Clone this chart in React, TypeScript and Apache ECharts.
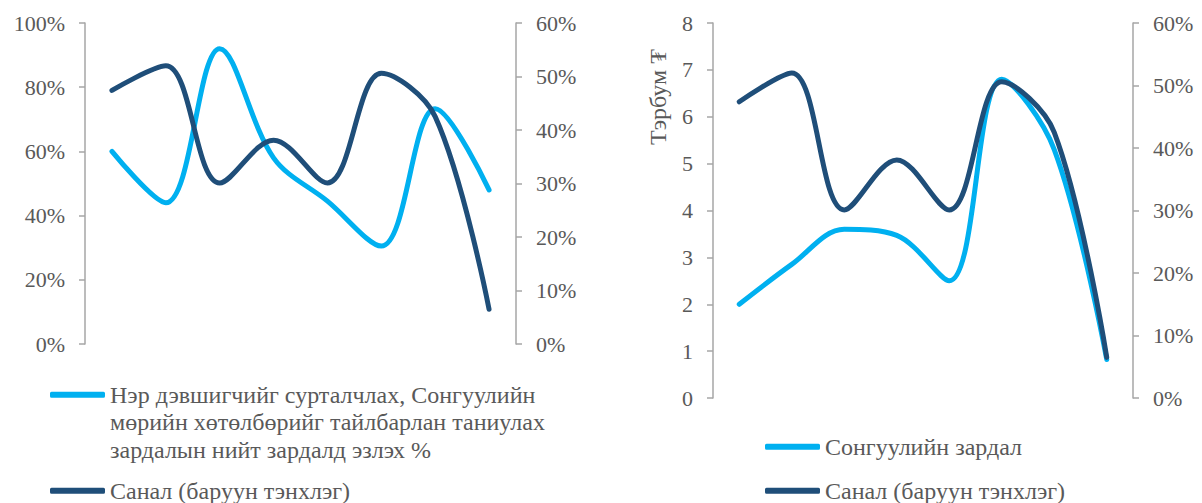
import React, { useEffect, useRef } from "react";
import * as echarts from "echarts";

const categories = ["1", "2", "3", "4", "5", "6", "7", "8"];
const promoShare = [60, 44, 92, 58, 44.5, 30.5, 73.3, 48];
const votes = [47.4, 52.0, 30.1, 38.1, 30.1, 50.6, 42.5, 6.5];
const spending = [2.0, 2.85, 3.6, 3.47, 2.5, 6.8, 5.3, 0.82];

const promoName =
  "Нэр дэвшигчийг сурталчлах, Сонгуулийн мөрийн хөтөлбөрийг тайлбарлан таниулах зардалын нийт зардалд эзлэх %";
const promoLegendLines = [
  "Нэр дэвшигчийг сурталчлах, Сонгуулийн",
  "мөрийн хөтөлбөрийг тайлбарлан таниулах",
  "зардалын нийт зардалд эзлэх %",
];
const votesName = "Санал (баруун тэнхлэг)";
const spendingName = "Сонгуулийн зардал";
const spendingAxisName = "Тэрбум ₮";

const LIGHT = "#00B0F0";
const DARK = "#1F4E79";
const TEXT = "#595959";
const AXIS = "#A6A6A6";
const FONT = "'Liberation Serif', 'DejaVu Serif', 'Times New Roman', serif";
const AXIS_FS = 22;
const LEGEND_FS = 24;

export default function App() {
  const ref = useRef<HTMLDivElement>(null);

  useEffect(() => {
    if (!ref.current) return;
    const chart = echarts.init(ref.current, undefined, { renderer: "svg" });

    const xAxisBase = (gridIndex: number) => ({
      type: "category",
      gridIndex,
      data: categories,
      boundaryGap: true,
      axisLine: { show: false },
      axisTick: { show: false },
      axisLabel: { show: false },
      splitLine: { show: false },
    });

    const yAxisBase = (
      gridIndex: number,
      position: string,
      max: number,
      interval: number,
      fmt: string
    ) => ({
      type: "value",
      gridIndex,
      position,
      min: 0,
      max,
      interval,
      axisLine: { show: true, lineStyle: { color: AXIS, width: 1.5 } },
      axisTick: { show: true, length: 6, lineStyle: { color: AXIS, width: 1.5 } },
      axisLabel: {
        formatter: fmt,
        color: TEXT,
        fontFamily: FONT,
        fontSize: AXIS_FS,
        margin: 20,
      },
      splitLine: { show: false },
    });

    const lineSeries = (
      name: string,
      data: number[],
      color: string,
      xAxisIndex: number,
      yAxisIndex: number
    ) => ({
      type: "line",
      name,
      data,
      xAxisIndex,
      yAxisIndex,
      smooth: 0.35,
      symbol: "none",
      showSymbol: false,
      lineStyle: { color, width: 5, cap: "round", join: "round" },
      itemStyle: { color },
      emphasis: { disabled: true },
    });

    const legendBase = (name: string, left: number, top: number, formatter?: () => string) => ({
      orient: "vertical",
      left,
      top,
      padding: 0,
      selectedMode: false,
      icon: "roundRect",
      itemWidth: 55,
      itemHeight: 6,
      data: [name],
      textStyle: {
        color: TEXT,
        fontFamily: FONT,
        fontSize: LEGEND_FS,
        lineHeight: 27.5,
      },
      ...(formatter ? { formatter } : {}),
    });

    chart.setOption({
      animation: false,
      textStyle: { fontFamily: FONT },
      grid: [
        { left: 85, right: 686, top: 23, bottom: 159 },
        { left: 713, right: 69, top: 23, bottom: 105 },
      ],
      xAxis: [xAxisBase(0), xAxisBase(1)],
      yAxis: [
        yAxisBase(0, "left", 100, 20, "{value}%"),
        yAxisBase(0, "right", 60, 10, "{value}%"),
        yAxisBase(1, "left", 8, 1, "{value}"),
        yAxisBase(1, "right", 60, 10, "{value}%"),
      ],
      legend: [
        legendBase(promoName, 50, 326, () => "\n\n" + promoLegendLines.join("\n")),
        legendBase(votesName, 50, 477),
        legendBase(spendingName, 765, 433),
        legendBase(votesName, 765, 477),
      ],
      graphic: [
        {
          type: "text",
          x: 658,
          y: 97,
          rotation: Math.PI / 2,
          style: {
            text: spendingAxisName,
            fill: TEXT,
            font: `${LEGEND_FS}px ${FONT}`,
            align: "center",
            verticalAlign: "middle",
          },
        },
      ],
      series: [
        lineSeries(promoName, promoShare, LIGHT, 0, 0),
        lineSeries(votesName, votes, DARK, 0, 1),
        lineSeries(spendingName, spending, LIGHT, 1, 2),
        lineSeries(votesName, votes, DARK, 1, 3),
      ],
    });

    return () => chart.dispose();
  }, []);

  return (
    <div
      ref={ref}
      style={{ position: "fixed", left: 0, top: 0, width: 1202, height: 503, background: "#fff" }}
    />
  );
}
